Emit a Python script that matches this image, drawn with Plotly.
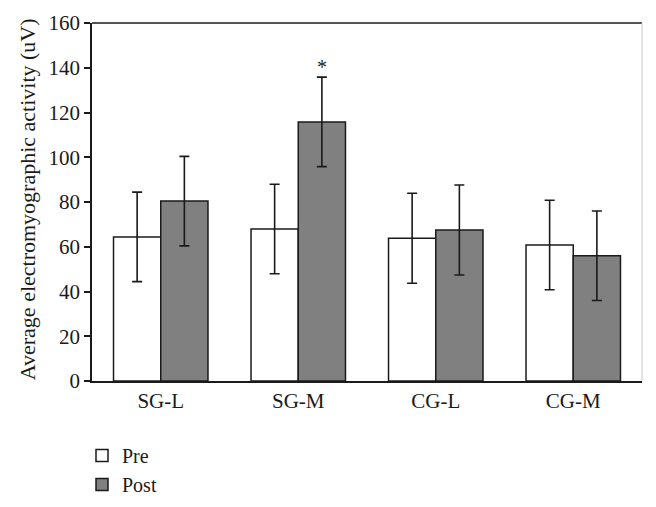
import plotly.graph_objects as go

categories = ["SG-L", "SG-M", "CG-L", "CG-M"]
pre_values = [64.4, 67.9, 63.8, 60.8]
pre_sd = [20.0, 20.0, 20.1, 20.0]
post_values = [80.4, 115.8, 67.5, 56.0]
post_sd = [20.0, 20.0, 20.1, 20.0]
series_names = ["Pre", "Post"]
y_ticks = [0, 20, 40, 60, 80, 100, 120, 140, 160]
significance = ["", "*", "", ""]
y_title = "Average electromyographic activity (uV)"

FONT = "Liberation Serif, Times New Roman, serif"
LINE = "#1a1a1a"

fig = go.Figure()
fig.add_trace(go.Bar(
    x=categories, y=pre_values, name=series_names[0],
    marker=dict(color="white", line=dict(color=LINE, width=1.5)),
    error_y=dict(type="data", array=pre_sd, visible=True, color=LINE, thickness=1.6, width=5),
))
fig.add_trace(go.Bar(
    x=categories, y=post_values, name=series_names[1],
    marker=dict(color="#808080", line=dict(color=LINE, width=1.5)),
    error_y=dict(type="data", array=post_sd, visible=True, color=LINE, thickness=1.6, width=5),
))

for cat, v, s, mark in zip(categories, post_values, post_sd, significance):
    if mark:
        fig.add_annotation(x=cat, y=v + s, text=mark, showarrow=False,
                           xshift=23.5, yshift=-3, yanchor="bottom",
                           font=dict(family=FONT, size=20, color="#1a1a1a"))

# y-axis title
fig.add_annotation(xref="paper", yref="paper", x=-0.118, y=0.508, text=y_title,
                   textangle=-90, showarrow=False, xanchor="center", yanchor="middle",
                   font=dict(family=FONT, size=22, color="#1a1a1a"))

# top and right frame lines
fig.add_shape(type="line", xref="paper", yref="paper", x0=0, x1=1, y0=1, y1=1,
              line=dict(color=LINE, width=1.5))
fig.add_shape(type="line", xref="paper", yref="paper", x0=1, x1=1, y0=0, y1=1,
              line=dict(color="#c8c8c8", width=1))

fig.update_layout(
    width=656, height=507,
    margin=dict(l=92, r=14, t=23, b=126, autoexpand=False),
    paper_bgcolor="white", plot_bgcolor="white",
    barmode="group", bargap=0.313, bargroupgap=0,
    font=dict(family=FONT, size=21, color="#1a1a1a"),
    showlegend=True,
    legend=dict(xref="container", yref="container", x=0.125, y=0.14,
                xanchor="left", yanchor="top",
                font=dict(family=FONT, size=20, color="#1a1a1a"),
                bgcolor="rgba(0,0,0,0)", tracegroupgap=0, itemwidth=30),
    xaxis=dict(showline=True, linecolor=LINE, linewidth=1.5, ticks="",
               tickfont=dict(family=FONT, size=21), showgrid=False, zeroline=False),
    yaxis=dict(range=[0, 160], tickvals=y_ticks, showline=True, linecolor=LINE, linewidth=1.5,
               ticks="outside", ticklen=6, tickwidth=1.5, tickcolor=LINE,
               tickfont=dict(family=FONT, size=21), showgrid=False, zeroline=False),
)

fig.write_html("out.html", config={"displayModeBar": False},
               post_script="document.body.style.margin='0';")
